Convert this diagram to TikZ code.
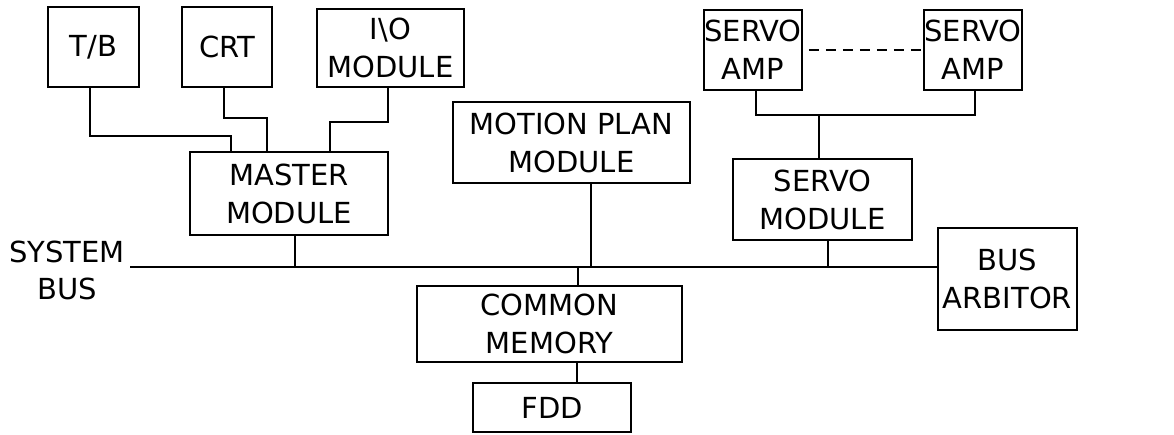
\documentclass[tikz,border=0pt]{standalone}
\usepackage{fontspec}
\newfontfamily\plotfont{DejaVu Sans}
\begin{document}
\begin{tikzpicture}[x=1pt,y=-1pt,line width=1.8pt,
  box/.style={draw,line width=1.8pt,inner sep=0pt,align=center,
    font=\plotfont\fontsize{29}{38}\selectfont},
  lbl/.style={inner sep=0pt,align=center,font=\plotfont\fontsize{29}{37}\selectfont}]
\useasboundingbox (0,0) rectangle (1174,434);
\node[box,minimum width=91pt,minimum height=80pt] (tb) at (93.5,47) {T/B};
\node[box,minimum width=90pt,minimum height=80pt] (crt) at (227,47) {CRT};
\node[box,minimum width=147pt,minimum height=78pt] (io) at (390.5,48) {I\textbackslash O\\MODULE};
\node[box,minimum width=198pt,minimum height=83pt] (master) at (289,193.5) {MASTER\\MODULE};
\node[box,minimum width=237pt,minimum height=81pt] (motion) at (571.5,142.5) {MOTION PLAN\\MODULE};
\node[box,minimum width=98pt,minimum height=80pt] (amp1) at (753,50) {SERVO\\AMP};
\node[box,minimum width=98pt,minimum height=80pt] (amp2) at (973,50) {SERVO\\AMP};
\node[box,minimum width=179pt,minimum height=81pt] (servo) at (822.5,199.5) {SERVO\\MODULE};
\node[box,minimum width=139pt,minimum height=102pt] (arb) at (1007.5,279) {BUS\\ARBITOR};
\node[box,minimum width=265pt,minimum height=76pt] (mem) at (549.5,324) {COMMON\\MEMORY};
\node[box,minimum width=158pt,minimum height=49pt] (fdd) at (552,407.5) {FDD};
\node[lbl] (sysbus) at (67,270) {SYSTEM\\BUS};
\coordinate (busL) at (130,267);
\coordinate (ampj) at (819,115);
% system bus
\draw (busL) -- (busL -| arb.west);
% peripherals to master
\draw ([xshift=-3.5pt]tb.south) -- ++(0,48) -| ([xshift=42pt]master.north west);
\draw ([xshift=-3pt]crt.south) -- ++(0,30) -| ([xshift=78pt]master.north west);
\draw ([xshift=-2.5pt]io.south) -- ++(0,34) -| ([xshift=141pt]master.north west);
% modules to bus
\draw ([xshift=6pt]master.south) -- ([xshift=6pt]master.south |- busL);
\draw ([xshift=19.5pt]motion.south) -- ([xshift=19.5pt]motion.south |- busL);
\draw ([xshift=5.5pt]servo.south) -- ([xshift=5.5pt]servo.south |- busL);
\draw ([xshift=28.5pt]mem.north) -- ([xshift=28.5pt]mem.north |- busL);
\draw ([xshift=25pt]fdd.north) -- ([xshift=25pt]fdd.north |- mem.south);
% servo amps
\draw ([xshift=3pt]amp1.south) |- (ampj) -| ([xshift=2pt]amp2.south);
\draw (ampj) -- (ampj |- servo.north);
\draw[dash pattern=on 10pt off 7pt] ([xshift=6pt]amp1.east) -- ([xshift=-2pt]amp2.west);
\end{tikzpicture}
\end{document}
